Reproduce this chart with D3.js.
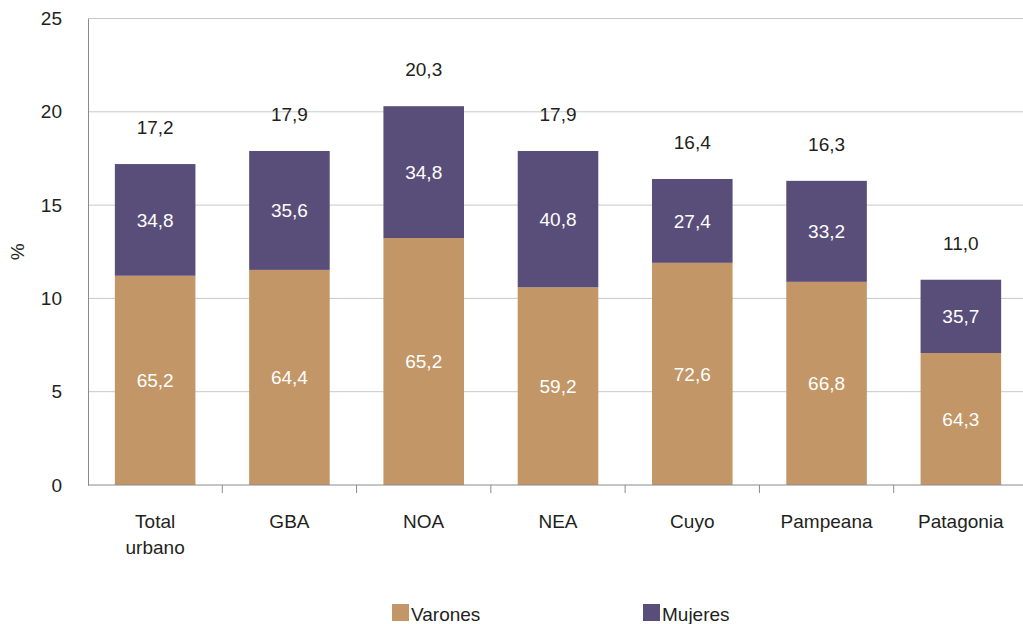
<!DOCTYPE html>
<html>
<head>
<meta charset="utf-8">
<script src="https://cdn.jsdelivr.net/npm/d3@7"></script>
<style>
  body { margin: 0; background: #fff; }
  text { font-family: "Liberation Sans", Arial, sans-serif; }
</style>
</head>
<body>
<div id="chart"></div>
<script>
// data
var categories = ["Total urbano", "GBA", "NOA", "NEA", "Cuyo", "Pampeana", "Patagonia"];
var totals = [17.2, 17.9, 20.3, 17.9, 16.4, 16.3, 11.0];
var varonesShare = [65.2, 64.4, 65.2, 59.2, 72.6, 66.8, 64.3];
var mujeresShare = [34.8, 35.6, 34.8, 40.8, 27.4, 33.2, 35.7];
var yTicks = [0, 5, 10, 15, 20, 25];

var width = 1023, height = 624;
var margin = { left: 88, top: 18.5, bottom: 139 };
var fs = "19px";

var colors = { Varones: "#c29666", Mujeres: "#594e7a" };
var fmt = function(v) { return v.toFixed(1).replace(".", ","); };

var svg = d3.select("#chart").append("svg")
  .attr("width", width)
  .attr("height", height);

// the category band runs a little past the right edge, as in the original
var x = d3.scaleBand()
  .domain(categories)
  .range([margin.left, 1028])
  .paddingInner(0.4)
  .paddingOuter(0.2);

var y = d3.scaleLinear()
  .domain([0, 25])
  .range([height - margin.bottom, margin.top]);

// gridlines
svg.append("g")
  .selectAll("line")
  .data(yTicks.slice(1))
  .enter()
  .append("line")
  .attr("x1", margin.left)
  .attr("x2", width)
  .attr("y1", function(d) { return y(d); })
  .attr("y2", function(d) { return y(d); })
  .attr("stroke", "#c8c8c8")
  .attr("stroke-width", 1);

// y axis
var yAxis = svg.append("g")
  .attr("transform", "translate(" + margin.left + ",0)")
  .call(d3.axisLeft(y).tickValues(yTicks).tickSize(0).tickPadding(26));
yAxis.select(".domain").attr("stroke", "#8a8a8a");
yAxis.selectAll("text")
  .style("font-size", fs)
  .attr("fill", "#231f20");

svg.append("text")
  .attr("transform", "translate(24," + y(12.5) + ") rotate(-90)")
  .attr("text-anchor", "middle")
  .style("font-size", fs)
  .attr("fill", "#231f20")
  .text("%");

// stacked rows
var rows = categories.map(function(c, i) {
  var v = totals[i] * varonesShare[i] / 100;
  return { cat: c, total: totals[i], v: v, m: totals[i] - v, vs: varonesShare[i], ms: mujeresShare[i] };
});

var bars = svg.append("g").selectAll("g")
  .data(rows)
  .enter()
  .append("g");

bars.append("rect")
  .attr("x", function(d) { return x(d.cat); })
  .attr("width", x.bandwidth())
  .attr("y", function(d) { return y(d.v); })
  .attr("height", function(d) { return y(0) - y(d.v); })
  .attr("fill", colors.Varones);

bars.append("rect")
  .attr("x", function(d) { return x(d.cat); })
  .attr("width", x.bandwidth())
  .attr("y", function(d) { return y(d.total); })
  .attr("height", function(d) { return y(d.v) - y(d.total); })
  .attr("fill", colors.Mujeres);

bars.append("text")
  .attr("x", function(d) { return x(d.cat) + x.bandwidth() / 2; })
  .attr("y", function(d) { return y(d.v / 2); })
  .attr("dy", "0.35em")
  .attr("text-anchor", "middle")
  .attr("fill", "#fff")
  .style("font-size", fs)
  .text(function(d) { return fmt(d.vs); });

bars.append("text")
  .attr("x", function(d) { return x(d.cat) + x.bandwidth() / 2; })
  .attr("y", function(d) { return y(d.v + d.m / 2); })
  .attr("dy", "0.35em")
  .attr("text-anchor", "middle")
  .attr("fill", "#fff")
  .style("font-size", fs)
  .text(function(d) { return fmt(d.ms); });

bars.append("text")
  .attr("x", function(d) { return x(d.cat) + x.bandwidth() / 2; })
  .attr("y", function(d) { return y(d.total) - 30; })
  .attr("text-anchor", "middle")
  .attr("fill", "#231f20")
  .style("font-size", fs)
  .text(function(d) { return fmt(d.total); });

// x axis
var xAxis = svg.append("g")
  .attr("transform", "translate(0," + y(0) + ")");
xAxis.append("line")
  .attr("x1", margin.left)
  .attr("x2", width)
  .attr("stroke", "#8a8a8a");
var step = x.step();
xAxis.selectAll(".sep")
  .data(d3.range(1, categories.length))
  .enter()
  .append("line")
  .attr("x1", function(i) { return margin.left + i * step; })
  .attr("x2", function(i) { return margin.left + i * step; })
  .attr("y1", 0)
  .attr("y2", 8)
  .attr("stroke", "#8a8a8a");

var catLabels = xAxis.selectAll(".cat")
  .data(categories)
  .enter()
  .append("text")
  .attr("x", function(d) { return x(d) + x.bandwidth() / 2; })
  .attr("y", 43)
  .attr("text-anchor", "middle")
  .attr("fill", "#231f20")
  .style("font-size", fs);
catLabels.each(function(d) {
  var parts = d === "Total urbano" ? ["Total", "urbano"] : [d];
  var t = d3.select(this);
  parts.forEach(function(p, k) {
    t.append("tspan")
      .attr("x", x(d) + x.bandwidth() / 2)
      .attr("dy", k === 0 ? 0 : 26)
      .text(p);
  });
});

// legend
var legend = [{ name: "Varones", x: 392 }, { name: "Mujeres", x: 643 }];
var lg = svg.append("g").selectAll("g")
  .data(legend)
  .enter()
  .append("g")
  .attr("transform", function(d) { return "translate(" + d.x + ",604)"; });
lg.append("rect")
  .attr("width", 17)
  .attr("height", 17)
  .attr("fill", function(d) { return colors[d.name]; });
lg.append("text")
  .attr("x", 19)
  .attr("y", 17)
  .attr("fill", "#231f20")
  .style("font-size", fs)
  .text(function(d) { return d.name; });
</script>
</body>
</html>
